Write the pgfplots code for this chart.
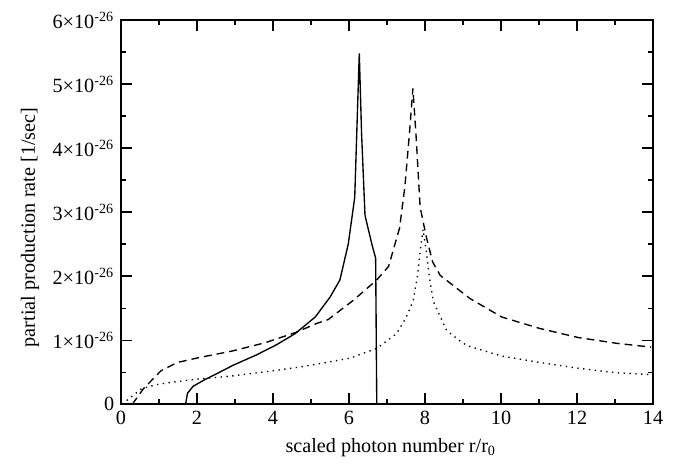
\documentclass[border=0pt]{standalone}
\usepackage{fontspec}
\setmainfont{Liberation Serif}
\usepackage{pgfplots}
\pgfplotsset{compat=1.18}

\begin{document}
\begin{tikzpicture}
% frame of the reference: 683 x 467 px, 1 px = 0.515pt
\useasboundingbox (-62.3pt,-32.4pt) rectangle (289.4pt,208.1pt);
\begin{axis}[
  scale only axis,
  width=274pt,
  height=197.8pt,
  xmin=0, xmax=14,
  ymin=0, ymax=6,
  xtick={0,2,...,14},
  minor xtick={1,3,...,13},
  ytick={0,1,...,6},
  minor ytick={0.5,1.5,...,5.5},
  yticklabels={0,1×10\textsuperscript{-26},2×10\textsuperscript{-26},3×10\textsuperscript{-26},4×10\textsuperscript{-26},5×10\textsuperscript{-26},6×10\textsuperscript{-26}},
  /pgf/number format/assume math mode=true,
  tick label style={font=\fontsize{10.4pt}{12pt}\selectfont},
  label style={font=\fontsize{10.4pt}{12pt}\selectfont},
  tick align=inside,
  major tick length=5.7pt,
  minor tick length=2.8pt,
  every tick/.style={black, line width=0.6pt},
  axis line style={line width=0.9pt},
  xlabel={scaled photon number r/r\textsubscript{0}},
  ylabel={partial production rate [1/sec]},
  xlabel style={at={(axis description cs:0.507,-0.125)}, anchor=base},
  ylabel style={at={(axis description cs:-0.171,0.46)}, anchor=center},
]
% solid
\addplot[black, line width=0.7pt, mark=none] coordinates {
  (1.70,0) (1.75,0.17) (1.90,0.28) (2.20,0.38) (2.60,0.50) (2.96,0.61)
  (3.57,0.77) (4.10,0.93) (4.58,1.10) (5.11,1.36) (5.50,1.67) (5.76,1.94)
  (5.98,2.50) (6.05,2.80) (6.15,3.23) (6.27,5.48) (6.33,4.23) (6.42,2.95)
  (6.60,2.50) (6.70,2.28) (6.73,0)
};
% dashed
\addplot[black, line width=0.7pt, mark=none, dash pattern=on 4pt off 2.6pt] coordinates {
  (0.30,0) (0.59,0.24) (1.05,0.52) (1.48,0.65) (2.00,0.72) (2.93,0.83)
  (3.80,0.96) (4.60,1.12) (5.15,1.26) (5.45,1.32) (6.11,1.62) (6.73,1.94)
  (7.04,2.15) (7.33,2.75) (7.47,3.40) (7.59,4.23) (7.68,4.93) (7.76,4.23)
  (7.87,3.08) (8.03,2.62) (8.20,2.22) (8.40,2.01) (9.18,1.65) (10.02,1.36)
  (11.03,1.18) (12.03,1.04) (13.04,0.95) (13.95,0.89)
};
% dotted
\addplot[black, line width=0.7pt, mark=none, dash pattern=on 0.7pt off 2.3pt] coordinates {
  (0.03,0) (0.54,0.24) (0.90,0.30) (1.20,0.33) (2.00,0.39) (2.93,0.44)
  (4.00,0.52) (4.71,0.58) (5.50,0.66) (6.03,0.72) (6.73,0.87) (7.25,1.10)
  (7.50,1.35) (7.69,1.62) (7.80,2.00) (7.87,2.38) (7.95,2.73) (8.04,2.35)
  (8.11,2.00) (8.22,1.60) (8.57,1.15) (9.00,0.95) (9.18,0.90) (10.02,0.75)
  (11.03,0.65) (12.03,0.56) (13.04,0.49) (13.95,0.46)
};
\end{axis}
\end{tikzpicture}
\end{document}
